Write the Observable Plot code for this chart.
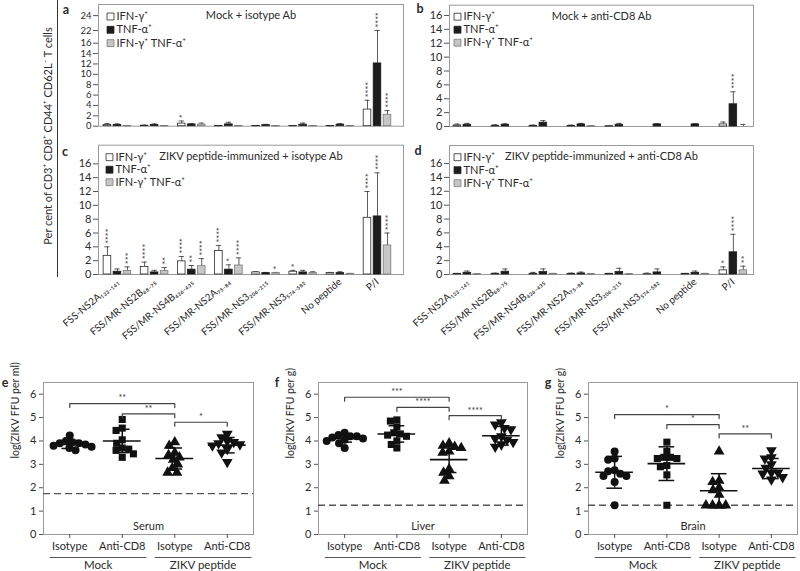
<!DOCTYPE html>
<html><head><meta charset="utf-8">
<script src="https://cdn.jsdelivr.net/npm/d3@7"></script>
<script src="https://cdn.jsdelivr.net/npm/@observablehq/plot@0.6"></script>
<style>
body{margin:0;background:#fff;}
#fig{position:relative;width:800px;height:571px;overflow:hidden;font-family:Lato,"Noto Sans",sans-serif;color:#222;}
#fig svg{position:absolute;overflow:visible;}
</style></head><body><div id="fig"></div>
<script>
// ---------- shared labels ----------
const peptides = ["FSS-NS2A₁₃₃₋₁₄₁", "FSS/MR-NS2B₆₈₋₇₅", "FSS/MR-NS4B₄₂₆₋₄₃₅", "FSS/MR-NS2A₇₅₋₈₄",
                  "FSS/MR-NS3₂₀₆₋₂₁₅", "FSS/MR-NS3₅₇₄₋₅₈₂", "No peptide", "P/I"];
const cytokines = ["IFN-γ⁺", "TNF-α⁺", "IFN-γ⁺ TNF-α⁺"];
const treatments = ["Isotype", "Anti-CD8", "Isotype", "Anti-CD8"];
const cohorts = ["Mock", "ZIKV peptide"];

// ---------- panel a: Mock + isotype Ab (broken axis 16 -> 22) ----------
const a_ticks   = [0, 2, 4, 6, 8, 10, 12, 14, 16, 22, 24];
const a_ifn     = [0.25, 0.1, 0.5, 0.05, 0.05, 0.05, 0.05, 3.2];
const a_ifn_up  = [0.5, 0.2, 1.0, 0.1, 0.1, 0.1, 0.1, 5.0];
const a_ifn_sig = ["", "", "*", "", "", "", "", "****"];
const a_tnf     = [0.25, 0.25, 0.35, 0.35, 0.2, 0.3, 0.3, 12.1];
const a_tnf_up  = [0.45, 0.45, 0.45, 0.75, 0.35, 0.6, 0.5, 22];
const a_tnf_sig = ["", "", "", "", "", "", "", "****"];
const a_dbl     = [0.05, 0.05, 0.3, 0.05, 0.05, 0.05, 0.05, 2.2];
const a_dbl_up  = [0.1, 0.1, 0.6, 0.1, 0.1, 0.1, 0.1, 3.0];
const a_dbl_sig = ["", "", "", "", "", "", "", "****"];

// ---------- panel b: Mock + anti-CD8 Ab ----------
const b_ifn     = [0.15, 0.1, 0.1, 0.1, 0.05, 0, 0, 0.3];
const b_ifn_up  = [0.35, 0.25, 0.2, 0.2, 0.1, 0, 0, 0.65];
const b_ifn_sig = ["", "", "", "", "", "", "", ""];
const b_tnf     = [0.25, 0.25, 0.55, 0.3, 0.25, 0.3, 0.3, 3.2];
const b_tnf_up  = [0.45, 0.4, 0.85, 0.45, 0.45, 0.4, 0.4, 5.0];
const b_tnf_sig = ["", "", "", "", "", "", "", "****"];
const b_dbl     = [0, 0, 0, 0.05, 0, 0, 0, 0];
const b_dbl_up  = [0, 0, 0, 0.1, 0, 0, 0, 0.3];
const b_dbl_sig = ["", "", "", "", "", "", "", ""];

// ---------- panel c: ZIKV peptide-immunized + isotype Ab ----------
const c_ifn     = [2.7, 1.1, 1.9, 3.4, 0.3, 0.4, 0.2, 8.2];
const c_ifn_up  = [4.0, 1.8, 2.6, 4.2, 0.4, 0.6, 0.3, 12.0];
const c_ifn_sig = ["****", "****", "****", "****", "", "*", "", "****"];
const c_tnf     = [0.4, 0.3, 0.7, 0.7, 0.2, 0.3, 0.2, 8.4];
const c_tnf_up  = [0.8, 0.6, 1.3, 1.4, 0.3, 0.6, 0.4, 14.7];
const c_tnf_sig = ["", "", "**", "*", "", "", "", "****"];
const c_dbl     = [0.5, 0.5, 1.2, 1.3, 0.2, 0.2, 0.1, 4.2];
const c_dbl_up  = [1.1, 1.0, 2.3, 2.4, 0.3, 0.4, 0.15, 6.0];
const c_dbl_sig = ["***", "**", "****", "****", "*", "", "", "****"];

// ---------- panel d: ZIKV peptide-immunized + anti-CD8 Ab ----------
const d_ifn     = [0.1, 0.1, 0.1, 0.1, 0.1, 0.05, 0.1, 0.6];
const d_ifn_up  = [0.15, 0.2, 0.3, 0.2, 0.15, 0.2, 0.15, 1.1];
const d_ifn_sig = ["", "", "", "", "", "", "", "*"];
const d_tnf     = [0.25, 0.4, 0.35, 0.15, 0.35, 0.3, 0.25, 3.2];
const d_tnf_up  = [0.5, 0.8, 0.8, 0.35, 0.9, 0.8, 0.5, 5.8];
const d_tnf_sig = ["", "", "", "", "", "", "", "****"];
const d_dbl     = [0.05, 0, 0.1, 0.05, 0.05, 0, 0.1, 0.6];
const d_dbl_up  = [0.1, 0, 0.15, 0.1, 0.1, 0, 0.15, 1.2];
const d_dbl_sig = ["", "", "", "", "", "", "", "**"];

// ---------- panels e-g: log(ZIKV FFU) ----------
const serum_mockIso = [4.23, 4.0, 3.95, 3.9, 3.9, 3.85, 3.8, 3.75, 3.7, 3.6];
const serum_mockCD8 = [4.92, 4.55, 4.45, 4.05, 3.9, 3.7, 3.65, 3.6, 3.45, 3.3];
const serum_zikvIso = [3.95, 3.8, 3.5, 3.4, 3.3, 3.2, 3.0, 2.85, 2.65, 2.65];
const serum_zikvCD8 = [4.3, 4.15, 4.0, 3.95, 3.9, 3.85, 3.8, 3.65, 3.5, 3.1];
const serum_mean = [3.85, 4.0, 3.25, 3.82];
const serum_sd   = [0.17, 0.5, 0.45, 0.33];
const serum_lod  = 1.75;
const serum_sig  = [[0, 2, 5.6, "**"], [1, 2, 5.16, "**"], [2, 3, 4.8, "*"]];

const liver_mockIso = [4.35, 4.25, 4.2, 4.2, 4.15, 4.1, 4.05, 4.0, 3.9, 3.7];
const liver_mockCD8 = [4.9, 4.85, 4.6, 4.35, 4.3, 4.25, 4.2, 4.0, 3.85, 3.7];
const liver_zikvIso = [3.9, 3.8, 3.75, 3.7, 3.55, 3.5, 2.8, 2.65, 2.5, 2.3];
const liver_zikvCD8 = [4.8, 4.7, 4.55, 4.5, 4.2, 4.1, 4.05, 3.95, 3.85, 3.75];
const liver_mean = [4.1, 4.3, 3.2, 4.22];
const liver_sd   = [0.15, 0.35, 0.55, 0.4];
const liver_lod  = 1.25;
const liver_sig  = [[0, 2, 5.87, "***"], [1, 2, 5.44, "****"], [2, 3, 5.08, "****"]];

const brain_mockIso = [3.55, 3.25, 3.2, 2.75, 2.7, 2.6, 2.5, 2.5, 2.25, 1.25];
const brain_mockCD8 = [3.95, 3.55, 3.3, 3.3, 3.25, 3.25, 2.95, 2.9, 2.55, 1.25];
const brain_zikvIso = [3.55, 2.3, 2.25, 2.0, 1.9, 1.7, 1.25, 1.25, 1.25, 1.25];
const brain_zikvCD8 = [3.6, 3.3, 3.25, 3.0, 2.85, 2.65, 2.65, 2.6, 2.45, 2.35];
const brain_mean = [2.66, 3.03, 1.87, 2.82];
const brain_sd   = [0.68, 0.72, 0.73, 0.43];
const brain_lod  = 1.25;
const brain_sig  = [[0, 2, 5.13, "*"], [1, 2, 4.7, "*"], [2, 3, 4.3, "**"]];

// ================= drawing =================
const fig = document.getElementById("fig");
const FONT = 'Lato, "Noto Sans", sans-serif';
const TXT = "#2a2a2a";

function place(svg, left, top) {
  svg.style.left = left + "px";
  svg.style.top = top + "px";
  fig.appendChild(svg);
}
function addText(txt, x, y, o = {}) {
  const el = document.createElement("div");
  el.textContent = txt;
  el.style.cssText = `position:absolute;left:${x}px;top:${y}px;transform:translate(-50%,-50%)${o.rotate ? ` rotate(${o.rotate}deg)` : ""};white-space:nowrap;font-size:${o.size || 11}px;font-weight:${o.weight || 400};line-height:1;color:${TXT};`;
  fig.appendChild(el);
}

const barFill = ["#ffffff", "#1c1c1c", "#c6c6c6"];
const barStroke = ["#2a2a2a", "#1c1c1c", "#7a7a7a"];

function barPanel(o) {
  const f = o.brk || d3.scaleLinear(); // identity unless the axis is broken
  const width = o.frameRight - o.left + 10;
  const ml = o.frameLeft - o.left;
  const step = (o.frameRight - o.frameLeft) / (o.xDomain[1] - o.xDomain[0]);
  const off = 10 / step, hw = 3.8 / step, cap = 2.6 / step;
  const marks = [Plot.frame({stroke: "#9a9a9a", strokeWidth: 1})];
  o.series.forEach((s, k) => {
    const rows = s.v.map((v, i) => ({i, v: f(v), up: f(s.up[i]), sig: s.sig[i], cx: i + (k - 1) * off}));
    const withErr = rows.filter(r => r.up > r.v);
    marks.push(
      Plot.ruleX(withErr, {x: "cx", y1: "v", y2: "up", stroke: "#333", strokeWidth: 0.8}),
      Plot.ruleY(withErr, {y: "up", x1: r => r.cx - cap, x2: r => r.cx + cap, stroke: "#333", strokeWidth: 0.8}),
      Plot.rect(rows.filter(r => r.v > 0), {x1: r => r.cx - hw, x2: r => r.cx + hw, y1: 0, y2: "v",
        fill: barFill[k], stroke: barStroke[k], strokeWidth: 0.8}),
      Plot.text(rows.filter(r => r.sig), {x: "cx", y: r => Math.max(r.up, r.v), text: "sig", rotate: -90,
        textAnchor: "start", lineAnchor: "middle", dy: -3, dx: 1.5, fontSize: 9, fill: "#333"}),
      Plot.dot([cytokines[k]], {frameAnchor: "top-left", dx: o.leg[0], dy: o.leg[1] + k * o.leg[2],
        symbol: "square", r: 3.9, fill: barFill[k], stroke: barStroke[k], strokeWidth: 0.8}),
      Plot.text([cytokines[k]], {frameAnchor: "top-left", dx: o.leg[0] + 6, dy: o.leg[1] + k * o.leg[2],
        text: d => d, textAnchor: "start", lineAnchor: "middle", fontSize: 11, fill: TXT})
    );
  });
  marks.push(
    Plot.text([o.title], {frameAnchor: "top", dy: 11, text: d => d, lineAnchor: "middle", fontSize: 11, fill: TXT}),
    Plot.axisY({ticks: o.yTicks.map(t => f(t)), tickFormat: d => Math.round(f.invert(d)),
      tickSize: 5, tickPadding: 2, fontSize: o.tickFont || 11, label: null, stroke: "#555", fill: TXT})
  );
  if (o.xLabels) marks.push(Plot.axisX({ticks: d3.range(peptides.length), tickFormat: i => peptides[i],
    tickRotate: -40, tickSize: 0, tickPadding: 6, fontSize: 10, label: null, textAnchor: "end", fill: TXT}));
  const svg = Plot.plot({
    width, height: o.height,
    marginLeft: ml, marginRight: width - ml - (o.frameRight - o.frameLeft),
    marginTop: o.mt, marginBottom: o.mb,
    style: {fontFamily: FONT, background: "transparent", overflow: "visible"},
    x: {domain: o.xDomain, axis: o.xLabels ? undefined : null},
    y: {domain: [0, f(o.yMax)]},
    marks
  });
  place(svg, o.left, o.top);
}

const S = (v, up, sig) => ({v, up, sig});
// broken axis of panel a: 0-16 at full scale, 16-22 compressed, 22-25.5 at a slightly expanded scale
const aBreak = d3.scaleLinear().domain([0, 16, 22, 25.5]).range([0, 16, 18.45, 23.46]);
barPanel({left: 58, top: 0, frameLeft: 98, frameRight: 403, height: 132, mt: 4, mb: 6.3,
  xDomain: [-0.51, 7.7], yMax: 25.5, brk: aBreak, tickFont: 9.5,
  yTicks: a_ticks, title: "Mock + isotype Ab", leg: [12, 12, 13.3],
  series: [S(a_ifn, a_ifn_up, a_ifn_sig), S(a_tnf, a_tnf_up, a_tnf_sig), S(a_dbl, a_dbl_up, a_dbl_sig)], xLabels: false});
barPanel({left: 409, top: 0, frameLeft: 449, frameRight: 753, height: 132, mt: 4.7, mb: 6,
  xDomain: [-0.47, 7.53], yMax: 17.48,
  yTicks: d3.range(0, 17, 2), title: "Mock + anti-CD8 Ab", leg: [8, 11.5, 13],
  series: [S(b_ifn, b_ifn_up, b_ifn_sig), S(b_tnf, b_tnf_up, b_tnf_sig), S(b_dbl, b_dbl_up, b_dbl_sig)], xLabels: false});
barPanel({left: 58, top: 138, frameLeft: 98, frameRight: 403, height: 216, mt: 6.7, mb: 80,
  xDomain: [-0.51, 7.7], yMax: 18.7,
  yTicks: d3.range(0, 17, 2), title: "ZIKV peptide-immunized + isotype Ab", leg: [11, 12, 12.5],
  series: [S(c_ifn, c_ifn_up, c_ifn_sig), S(c_tnf, c_tnf_up, c_tnf_sig), S(c_dbl, c_dbl_up, c_dbl_sig)], xLabels: true});
barPanel({left: 409, top: 138, frameLeft: 449, frameRight: 753, height: 216, mt: 7, mb: 80,
  xDomain: [-0.47, 7.53], yMax: 18.6,
  yTicks: d3.range(0, 17, 2), title: "ZIKV peptide-immunized + anti-CD8 Ab", leg: [8, 11.7, 13],
  series: [S(d_ifn, d_ifn_up, d_ifn_sig), S(d_tnf, d_tnf_up, d_tnf_sig), S(d_dbl, d_dbl_up, d_dbl_sig)], xLabels: true});

// ---- scatter panels ----
const sqrt3 = Math.sqrt(3);
const invTriangle = {draw(ctx, size) {
  const y = -Math.sqrt(size / (sqrt3 * 3));
  ctx.moveTo(0, -y * 2); ctx.lineTo(-sqrt3 * y, y); ctx.lineTo(sqrt3 * y, y); ctx.closePath();
}};
const groupSymbols = ["circle", "square", "triangle", invTriangle];

function swarm(values, pxY, d) {
  const idx = values.map((_, j) => j).sort((a, b) => values[b] - values[a] || a - b);
  const placed = [], out = new Array(values.length);
  for (const j of idx) {
    const y = values[j] * pxY;
    const near = placed.filter(p => Math.abs(p.y - y) < d);
    const cands = [0];
    for (const p of near) { const w = Math.sqrt(d * d - (p.y - y) ** 2); cands.push(p.x + w, p.x - w); }
    cands.sort((a, b) => Math.abs(a) - Math.abs(b) || a - b);
    const x = cands.find(c => near.every(p => (p.x - c) ** 2 + (p.y - y) ** 2 >= d * d - 1e-6));
    placed.push({x, y}); out[j] = x;
  }
  return out;
}

function scatterPanel(o) {
  const mt = 12, mb = 37, height = 201, yMax = 6.5;
  const fw = o.frameRight - o.frameLeft, fh = height - mt - mb;
  const pxX = fw / 4, pxY = fh / yMax;
  const pts = [];
  o.groups.forEach((vals, g) => {
    const offs = swarm(vals, pxY, 6.6);
    vals.forEach((v, j) => pts.push({g, v, x: g + offs[j] / pxX}));
  });
  const G = d3.range(4);
  const brPts = [];
  const drop = 4 / pxY;
  o.sig.forEach((b, id) => {
    brPts.push({id, x: b[0], y: b[2] - drop}, {id, x: b[0], y: b[2]}, {id, x: b[1], y: b[2]}, {id, x: b[1], y: b[2] - drop});
  });
  const spans = [{from: 0, to: 1, name: cohorts[0]}, {from: 2, to: 3, name: cohorts[1]}];
  const marks = [
    Plot.frame({stroke: "#9a9a9a"}),
    Plot.ruleY([o.lod], {stroke: "#555", strokeDasharray: "7,4", strokeWidth: 1.3}),
    ...G.map(g => Plot.dot(pts.filter(p => p.g === g), {x: "x", y: "v", symbol: groupSymbols[g], r: 4, fill: "#111", stroke: "none"})),
    Plot.ruleY(G, {y: g => o.mean[g], x1: g => g - 0.36, x2: g => g + 0.36, stroke: "#111", strokeWidth: 1.6}),
    Plot.ruleX(G, {x: g => g, y1: g => o.mean[g] - o.sd[g], y2: g => o.mean[g] + o.sd[g], stroke: "#111", strokeWidth: 1.5}),
    Plot.ruleY(G, {y: g => o.mean[g] + o.sd[g], x1: g => g - 0.15, x2: g => g + 0.15, stroke: "#111", strokeWidth: 1.5}),
    Plot.ruleY(G, {y: g => o.mean[g] - o.sd[g], x1: g => g - 0.15, x2: g => g + 0.15, stroke: "#111", strokeWidth: 1.5}),
    Plot.line(brPts, {x: "x", y: "y", z: "id", stroke: "#444", strokeWidth: 1.2}),
    Plot.text(o.sig, {x: b => (b[0] + b[1]) / 2, y: b => b[2], text: b => b[3], dy: -5, fontSize: 9, fill: "#333"}),
    Plot.text([o.tissue], {frameAnchor: "bottom", dy: -8, text: d => d, lineAnchor: "middle", fontSize: 11, fill: TXT}),
    Plot.text([o.ylabel], {frameAnchor: "left", dx: -28, rotate: -90, text: d => d, lineAnchor: "middle", fontSize: 10.5, fill: TXT}),
    Plot.axisY({ticks: d3.range(7), tickFormat: d => String(d), tickSize: 4, tickPadding: 3, fontSize: 11, label: null, stroke: "#555", fill: TXT}),
    Plot.axisX({ticks: G, tickFormat: i => treatments[i], tickSize: 4, tickPadding: 4, fontSize: 11, label: null, stroke: "#555", fill: TXT}),
    Plot.link(spans, {x1: s => s.from - 0.38, x2: s => s.to + 0.46, y1: 0, y2: 0, dy: 23, stroke: "#555", strokeWidth: 1}),
    Plot.text(spans, {x: s => (s.from + s.to) / 2 + 0.04, y: 0, dy: 31, text: "name", lineAnchor: "middle", fontSize: 11.5, fill: TXT})
  ];
  const width = o.frameRight - o.left + 4;
  const svg = Plot.plot({
    width, height,
    marginLeft: o.frameLeft - o.left, marginRight: width - (o.frameRight - o.left), marginTop: mt, marginBottom: mb,
    style: {fontFamily: FONT, background: "transparent", overflow: "visible"},
    x: {domain: [-0.5, 3.5]},
    y: {domain: [0, yMax]},
    marks
  });
  place(svg, o.left, 370);
}

scatterPanel({left: 0, frameLeft: 43, frameRight: 253, tissue: "Serum", ylabel: "log(ZIKV FFU per ml)",
  groups: [serum_mockIso, serum_mockCD8, serum_zikvIso, serum_zikvCD8], mean: serum_mean, sd: serum_sd, lod: serum_lod, sig: serum_sig});
scatterPanel({left: 275, frameLeft: 318, frameRight: 527, tissue: "Liver", ylabel: "log(ZIKV FFU per g)",
  groups: [liver_mockIso, liver_mockCD8, liver_zikvIso, liver_zikvCD8], mean: liver_mean, sd: liver_sd, lod: liver_lod, sig: liver_sig});
scatterPanel({left: 545, frameLeft: 588, frameRight: 797, tissue: "Brain", ylabel: "log(ZIKV FFU per g)",
  groups: [brain_mockIso, brain_mockCD8, brain_zikvIso, brain_zikvCD8], mean: brain_mean, sd: brain_sd, lod: brain_lod, sig: brain_sig});

// ---- shared annotations ----
addText("Per cent of CD3⁺ CD8⁺ CD44⁺ CD62L⁻ T cells", 47, 136, {rotate: -90, size: 11});
const vline = document.createElement("div");
vline.style.cssText = "position:absolute;left:57px;top:0;width:1px;height:277px;background:#333;";
fig.appendChild(vline);
[["a", 66, 10], ["b", 420, 9], ["c", 65, 152], ["d", 418, 151], ["e", 5, 383], ["f", 277, 383], ["g", 548, 383]]
  .forEach(([t, x, y]) => addText(t, x, y, {weight: 700, size: 12.5}));
</script></body></html>
